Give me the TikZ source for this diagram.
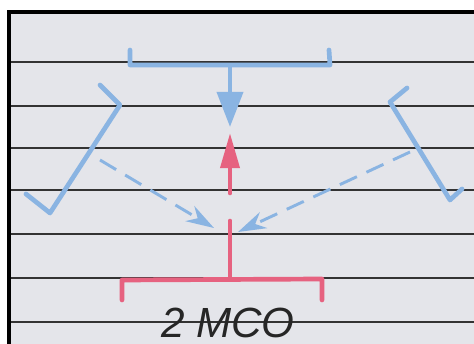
\documentclass[tikz,border=0pt]{standalone}
\usepackage{fontspec}
\setsansfont{Liberation Sans}
\usetikzlibrary{arrows.meta}
\definecolor{paper}{RGB}{228,229,234}
\definecolor{pen}{RGB}{138,180,226}
\definecolor{ink}{RGB}{230,98,128}
\tikzset{
  rule/.style={line width=1pt,black!80},
  blu/.style={pen,line width=4pt,line cap=round,line join=round},
  pnk/.style={ink,line width=4pt,line cap=round,line join=round},
  bighead/.style={-{Triangle[length=30pt,width=22pt]}},
  thinhead/.style={-{Stealth[length=24pt,width=15pt]}},
  dsh/.style={pen,line width=2.5pt,dash pattern=on 16pt off 9pt},
}

\begin{document}
\begin{tikzpicture}[x=0.03cm,y=-0.03cm]
  \useasboundingbox (0,0) rectangle (474,344);
  % paper
  \fill[white] (0,0) rectangle (474,344);
  \fill[paper] (9,12) rectangle (474,344);
  \foreach \yy in {62,106,148,190,234,278,322}
    \draw[rule] (9,\yy) -- (474,\yy);
  \draw[line width=3.5pt] (9,344) -- (9,12) -- (474,12);

  % top bracket and arrow
  \coordinate (topL) at (130,65);
  \coordinate (topR) at (330,65);
  \coordinate (topM) at (230,67);
  \coordinate (topTip) at (230,127);
  \draw[blu] (130,50) -- (topL) -- (topR) -- (329,50);
  \draw[blu,bighead] (topM) -- (topTip);

  % side brackets
  \coordinate (lfA) at (120,105);
  \coordinate (lfB) at (50,213);
  \draw[blu] (100,85) -- (lfA) -- (lfB) -- (26,194);
  \coordinate (rtA) at (390,102);
  \coordinate (rtB) at (450,200);
  \draw[blu] (407,88) -- (rtA) -- (rtB) -- (462,189);

  % bottom bracket
  \coordinate (botL) at (122,280);
  \coordinate (botR) at (322,279);
  \coordinate (botM) at (230,279);
  \coordinate (joint) at (230,221);
  \draw[pnk] (122,300) -- (botL) -- (botR) -- (322,300);
  \draw[pnk] (botM) -- (joint);

  % red arrow up
  \coordinate (redS) at (230,193);
  \coordinate (redT) at (230,133);
  \draw[pnk,-{Triangle[length=30pt,width=16pt]}] (redS) -- (redT);

  % dashed arrows in
  \coordinate (lfS) at (100,160);
  \coordinate (lfT) at (214,228);
  \coordinate (rtS) at (410,152);
  \coordinate (rtT) at (238,232);
  \draw[dsh,thinhead] (lfS) -- (lfT);
  \draw[dsh,thinhead] (rtS) -- (rtT);

  \node[font=\fontsize{36}{38}\selectfont\sffamily\itshape,text=black!85,inner sep=0pt,anchor=base] (lbl) at (228,337) {2 MCO};
\end{tikzpicture}
\end{document}
